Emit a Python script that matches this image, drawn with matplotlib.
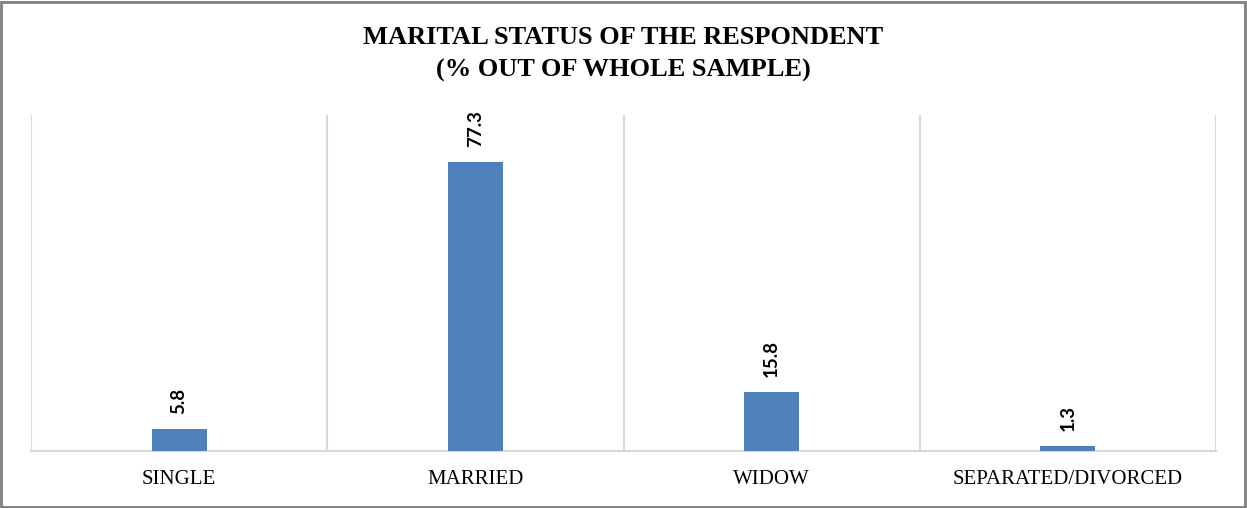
import matplotlib.pyplot as plt
from matplotlib.patches import Rectangle

categories = ["SINGLE", "MARRIED", "WIDOW", "SEPARATED/DIVORCED"]
percent = [5.8, 77.3, 15.8, 1.3]

fig = plt.figure(figsize=(12.47, 5.08), dpi=100)
ax = fig.add_axes([31 / 1247, 57 / 508, 1185 / 1247, 336 / 508])

x = range(len(categories))
ax.bar(x, percent, width=0.186, color="#4F81BD", zorder=3)

# value labels above each bar, rotated
for xi, v in zip(x, percent):
    ax.annotate(f"{v}", (xi, v), xytext=(0, 11), textcoords="offset points",
                rotation=90, ha="center", va="bottom",
                fontsize=13.5, fontweight="bold", family="Lato")

ax.set_xlim(-0.5, len(categories) - 0.5)
ax.set_ylim(0, 90)

# vertical separators between categories
for b in [i - 0.5 for i in range(len(categories) + 1)]:
    ax.axvline(b, color="#d9d9d9", linewidth=1.5, zorder=1)

ax.set_xticks(list(x))
ax.set_xticklabels(categories, family="Liberation Serif", fontsize=15)
ax.tick_params(axis="x", length=0, pad=14)
ax.set_yticks([])
for side in ["left", "right", "top"]:
    ax.spines[side].set_visible(False)
ax.spines["bottom"].set_color("#d9d9d9")
ax.spines["bottom"].set_linewidth(1.5)

fig.text(0.5, 1 - 38 / 508, "MARITAL STATUS OF THE RESPONDENT",
         ha="center", va="center", family="Liberation Serif",
         fontweight="bold", fontsize=19)
fig.text(0.5, 1 - 70 / 508, "(% OUT OF WHOLE SAMPLE)",
         ha="center", va="center", family="Liberation Serif",
         fontweight="bold", fontsize=19)

fig.patches.append(Rectangle((0.001, 0.002), 0.997, 0.995, transform=fig.transFigure,
                             fill=False, edgecolor="#7f7f7f", linewidth=2))

fig.savefig("out.png", dpi=100)
